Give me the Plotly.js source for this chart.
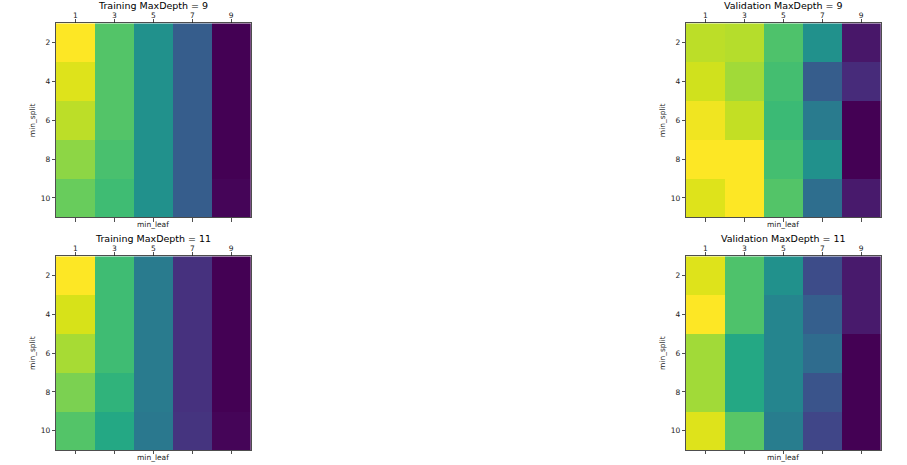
<!DOCTYPE html>
<html>
<head>
<meta charset="utf-8">
<script src="https://cdn.plot.ly/plotly-3.0.1.min.js"></script>
<style>html,body{margin:0;padding:0;background:#fff;}#chart{width:907px;height:465px;}</style>
</head>
<body>
<div id="chart"></div>
<script>
// min_leaf (columns) and min_split (rows)
const minLeaf = [1, 3, 5, 7, 9];
const minSplit = [2, 4, 6, 8, 10];

// Normalised scores (0 = worst, 1 = best within each panel), rows = min_split
const trainDepth9 = [
  [1.00, 0.73, 0.50, 0.29, 0.00],
  [0.95, 0.73, 0.50, 0.29, 0.00],
  [0.90, 0.73, 0.50, 0.29, 0.00],
  [0.83, 0.71, 0.50, 0.29, 0.00],
  [0.77, 0.69, 0.50, 0.29, 0.01]
];
const validDepth9 = [
  [0.90, 0.89, 0.72, 0.50, 0.06],
  [0.93, 0.86, 0.70, 0.29, 0.12],
  [0.98, 0.91, 0.68, 0.41, 0.00],
  [1.00, 1.00, 0.70, 0.50, 0.00],
  [0.95, 1.00, 0.73, 0.36, 0.07]
];
const trainDepth11 = [
  [1.00, 0.69, 0.41, 0.14, 0.00],
  [0.94, 0.69, 0.41, 0.14, 0.00],
  [0.87, 0.69, 0.41, 0.14, 0.00],
  [0.80, 0.65, 0.41, 0.14, 0.00],
  [0.73, 0.60, 0.40, 0.15, 0.01]
];
const validDepth11 = [
  [0.95, 0.72, 0.50, 0.23, 0.07],
  [1.00, 0.72, 0.45, 0.30, 0.07],
  [0.86, 0.60, 0.45, 0.35, 0.00],
  [0.86, 0.60, 0.45, 0.26, 0.00],
  [0.95, 0.74, 0.42, 0.21, 0.00]
];

const panelTitles = ["Training MaxDepth = 9", "Validation MaxDepth = 9", "Training MaxDepth = 11", "Validation MaxDepth = 11"];
const panelData = [trainDepth9, validDepth9, trainDepth11, validDepth11];

const W = 907, H = 465;
const xDomains = [[56/W, 250.7/W], [686/W, 880.7/W]];
const yDomains = [[1-217.3/H, 1-23.3/H], [1-450/H, 1-256.3/H]];

const traces = [];
const layout = {
  width: W, height: H,
  margin: {l: 0, r: 0, t: 0, b: 0},
  paper_bgcolor: '#fff', plot_bgcolor: '#fff',
  font: {family: 'DejaVu Sans', color: '#000'},
  showlegend: false,
  annotations: []
};

panelData.forEach((z, i) => {
  const n = i + 1;
  const col = i % 2, row = Math.floor(i / 2);
  const xa = n === 1 ? 'x' : 'x' + n;
  const ya = n === 1 ? 'y' : 'y' + n;
  traces.push({
    type: 'heatmap', x: minLeaf, y: minSplit, z: z,
    xaxis: xa, yaxis: ya,
    colorscale: 'Viridis', zmin: 0, zmax: 1, showscale: false, hoverinfo: 'x+y+z'
  });
  const xkey = n === 1 ? 'xaxis' : 'xaxis' + n;
  const ykey = n === 1 ? 'yaxis' : 'yaxis' + n;
  layout[xkey] = {
    domain: xDomains[col], anchor: ya, side: 'top',
    range: [0, 10], tickvals: minLeaf, ticktext: minLeaf.map(String),
    ticks: 'outside', ticklen: 3.5, tickwidth: 0.8, tickcolor: '#222',
    showline: true, linecolor: '#222', linewidth: 0.8, mirror: 'ticks',
    showgrid: false, zeroline: false, fixedrange: true,
    ticklabelstandoff: -2,
    tickfont: {size: 7.5, color: '#222', family: 'DejaVu Sans'}
  };
  layout[ykey] = {
    domain: yDomains[row], anchor: xa,
    range: [11, 1], tickvals: minSplit, ticktext: minSplit.map(String),
    ticks: 'outside', ticklen: 3.5, tickwidth: 0.8, tickcolor: '#222',
    showline: true, linecolor: '#222', linewidth: 0.8, mirror: true,
    showgrid: false, zeroline: false, fixedrange: true,
    tickfont: {size: 7.5, color: '#222', family: 'DejaVu Sans'},
    title: {text: 'min_split', font: {size: 7.5, color: '#222', family: 'DejaVu Sans'}, standoff: 3}
  };
  const cx = (xDomains[col][0] + xDomains[col][1]) / 2;
  const topY = yDomains[row][1], botY = yDomains[row][0];
  layout.annotations.push({
    text: panelTitles[i], xref: 'paper', yref: 'paper', x: cx, y: topY + 11.5/H,
    xanchor: 'center', yanchor: 'bottom', showarrow: false, borderpad: 0,
    font: {size: 9.5, color: '#000', family: 'DejaVu Sans'}
  });
  layout.annotations.push({
    text: 'min_leaf', xref: 'paper', yref: 'paper', x: cx, y: botY - 7/H,
    xanchor: 'center', yanchor: 'middle', showarrow: false,
    font: {size: 7.5, color: '#222', family: 'DejaVu Sans'}
  });
});

Plotly.newPlot('chart', traces, layout, {displayModeBar: false, staticPlot: true});
</script>
</body>
</html>
